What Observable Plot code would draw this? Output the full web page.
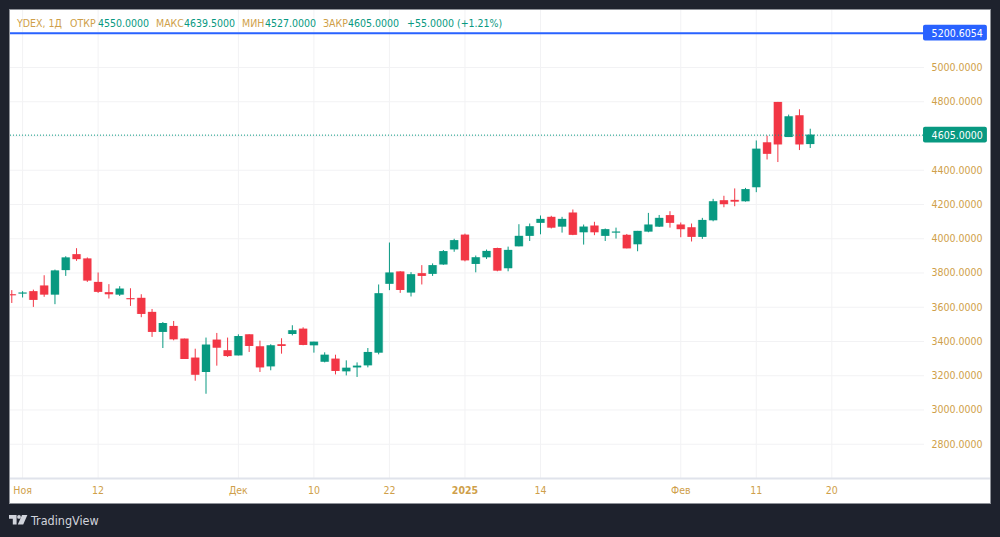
<!DOCTYPE html>
<html><head><meta charset="utf-8">
<script src="https://cdn.jsdelivr.net/npm/d3@7"></script>
<script src="https://cdn.jsdelivr.net/npm/@observablehq/plot@0.6"></script>
<style>
html,body{margin:0;padding:0;background:#1e222d;width:1000px;height:537px;overflow:hidden}
#panel{position:absolute;left:10px;top:10px;width:980px;height:493px;background:#fff;box-shadow:0 0 0 1px rgba(190,192,198,.7)}
#panel svg{position:absolute;left:0;top:0;display:block}
#legend{position:absolute;left:17px;top:16px;font:10.5px/14px "DejaVu Sans Condensed","DejaVu Sans",sans-serif;font-stretch:condensed;white-space:pre;color:#cf9f4a}
#legend span{position:absolute;top:0}
#legend .v{color:#089981}
#footer{position:absolute;left:9px;top:515px;height:11px;color:#d1d4dc;font:500 12.5px/11px "DejaVu Sans Condensed","DejaVu Sans",sans-serif;font-stretch:condensed}
#footer svg{position:absolute;left:0;top:0}
#footer span{position:absolute;left:22px;top:0;white-space:nowrap}
</style></head><body>
<div id="panel"></div>
<div id="legend"></div>
<div id="footer"><svg width="19" height="10" viewBox="0 0 19 10"><path fill="#d1d4dc" d="M0 0h7.6v9.5H3.8V3.8H0z"/><circle fill="#d1d4dc" cx="10" cy="1.9" r="1.9"/><path fill="#d1d4dc" d="M13 0h5.4l-4.2 9.5H8.8z"/></svg><span>TradingView</span></div>
<script>
const opens = [3673,3677,3691,3724,3671,3814,3907,3882,3745,3685,3671,3650,3652,3570,3453,3488,3414,3303,3219,3408,3346,3316,3439,3369,3252,3381,3441,3472,3375,3279,3297,3223,3246,3258,3332,3734,3806,3683,3796,3792,3847,3935,4021,3850,3889,3943,3825,3953,4014,4090,4125,4068,4150,4035,4074,4014,4033,4020,3965,4039,4068,4135,4080,4064,4008,4105,4222,4224,4216,4298,4560,4796,4591,4718,4550];
const closes = [3667,3683,3640,3671,3812,3888,3878,3753,3687,3673,3706,3644,3558,3453,3505,3410,3295,3203,3379,3361,3312,3429,3371,3246,3375,3371,3463,3377,3396,3320,3225,3244,3256,3336,3679,3800,3698,3790,3780,3843,3925,3989,3871,3889,3926,3811,3932,4014,4070,4113,4062,4113,4020,4068,4035,4053,4039,3941,4043,4080,4119,4090,4053,4008,4107,4216,4199,4214,4287,4523,4493,4548,4712,4548,4605];
const highs = [3697,3691,3700,3784,3817,3895,3942,3888,3800,3732,3720,3708,3673,3587,3511,3517,3414,3355,3420,3447,3420,3439,3439,3402,3381,3416,3492,3480,3396,3334,3320,3287,3275,3359,3730,3975,3808,3802,3843,3853,3931,3997,4027,3899,3934,3945,3951,4082,4086,4133,4131,4125,4168,4080,4096,4057,4062,4025,4043,4148,4136,4158,4092,4086,4119,4230,4248,4291,4294,4571,4599,4796,4722,4753,4639.5];
const lows = [3622,3654,3599,3658,3615,3780,3868,3745,3681,3648,3663,3605,3539,3424,3359,3404,3295,3168,3092,3256,3307,3316,3336,3219,3229,3326,3433,3375,3332,3275,3205,3199,3190,3246,3322,3697,3681,3660,3730,3780,3845,3921,3865,3801,3879,3807,3807,3953,3984,4023,4057,4033,4018,3963,4018,3984,3998,3941,3924,4035,4066,4062,4006,3981,3996,4099,4181,4187,4214,4269,4460,4445,4591,4515,4527];

const xTicks = [1,8,21,28,35,42,49,62,69,76];
const xLabels = ["Ноя","12","Дек","10","22","2025","14","Фев","11","20"];
const yGrid = [2800,3000,3200,3400,3600,3800,4000,4200,4400,4600,4800,5000,5200];
const yLabels = [2800,3000,3200,3400,3600,3800,4000,4200,4400,4800,5000];
const priceLines = [5200.6054, 4605];

const legendItems = [
  ["YDEX, 1Д",0,0],["ОТКР",53,0],["4550.0000",81,1],["МАКС",139,0],["4639.5000",167,1],
  ["МИН",225,0],["4527.0000",248,1],["ЗАКР",306,0],["4605.0000",331,1],["+55.0000 (+1.21%)",390,1]
];

const BLUE="#2962ff", GREEN="#089981", RED="#f23645", GOLD="#cf9f4a", GRID="#f2f2f4";
const FONT='"DejaVu Sans Condensed","DejaVu Sans",sans-serif';
const FS=10.5;

const candles = opens.map((o,i)=>({i,o,c:closes[i],h:highs[i],l:lows[i],dir:closes[i]>=o?"up":"down"}));
const labelOf = i => xLabels[xTicks.indexOf(i)];

const chart = Plot.plot({
  width:980, height:493,
  marginLeft:0, marginRight:66, marginTop:0, marginBottom:25,
  x:{domain:[-0.12,84.59], range:[0,914], axis:null},
  y:{domain:[2600,5332.8], range:[468,0], axis:null},
  color:{domain:["up","down"], range:[GREEN,RED]},
  style:{background:"transparent", fontFamily:FONT, fontStretch:"condensed", overflow:"visible"},
  marks:[
    Plot.gridY(yGrid,{stroke:GRID,strokeOpacity:1,strokeWidth:1}),
    Plot.gridX(xTicks,{stroke:GRID,strokeOpacity:1,strokeWidth:1}),
    Plot.ruleX(candles,{x:"i",y1:"l",y2:"h",stroke:"dir",strokeWidth:1,clip:"frame"}),
    Plot.ruleX(candles,{x:"i",y1:"o",y2:"c",stroke:"dir",strokeWidth:9.2,strokeOpacity:0.3,clip:"frame"}),
    Plot.ruleX(candles,{x:"i",y1:"o",y2:"c",stroke:"dir",strokeWidth:8,clip:"frame"}),
    Plot.ruleY([priceLines[0]],{stroke:BLUE,strokeWidth:2}),
    Plot.ruleY([priceLines[1]],{stroke:GREEN,strokeWidth:1,strokeDasharray:"1,2"}),
    Plot.ruleY([2600],{x1:-0.12,x2:90.7,stroke:"#e0e3eb",strokeWidth:2}),
    Plot.axisY({anchor:"right",ticks:yLabels,tickFormat:d=>d.toFixed(4),tickSize:0,tickPadding:7,label:null,color:GOLD,fontSize:FS}),
    Plot.axisX({anchor:"bottom",ticks:xTicks.filter(i=>labelOf(i)!=="2025"),tickFormat:labelOf,tickSize:0,tickPadding:8,label:null,color:GOLD,fontSize:FS}),
    Plot.axisX({anchor:"bottom",ticks:xTicks.filter(i=>labelOf(i)==="2025"),tickFormat:labelOf,tickSize:0,tickPadding:8,label:null,color:GOLD,fontSize:FS,fontWeight:"bold"}),
    Plot.rect(priceLines,{x1:84.5,x2:90.42,y1:d=>d-46,y2:d=>d+46,fill:d=>d===priceLines[0]?BLUE:GREEN,rx:2}),
    Plot.text(priceLines,{x:85.25,y:d=>d,text:d=>d.toFixed(4),fill:"#fff",textAnchor:"start",fontSize:FS})
  ]
});
document.getElementById("panel").appendChild(chart);

const lg=document.getElementById("legend");
legendItems.forEach(([t,x,v])=>{
  const s=document.createElement("span");
  s.textContent=t; s.style.left=x+"px"; if(v) s.className="v";
  lg.appendChild(s);
});
</script>
</body></html>
